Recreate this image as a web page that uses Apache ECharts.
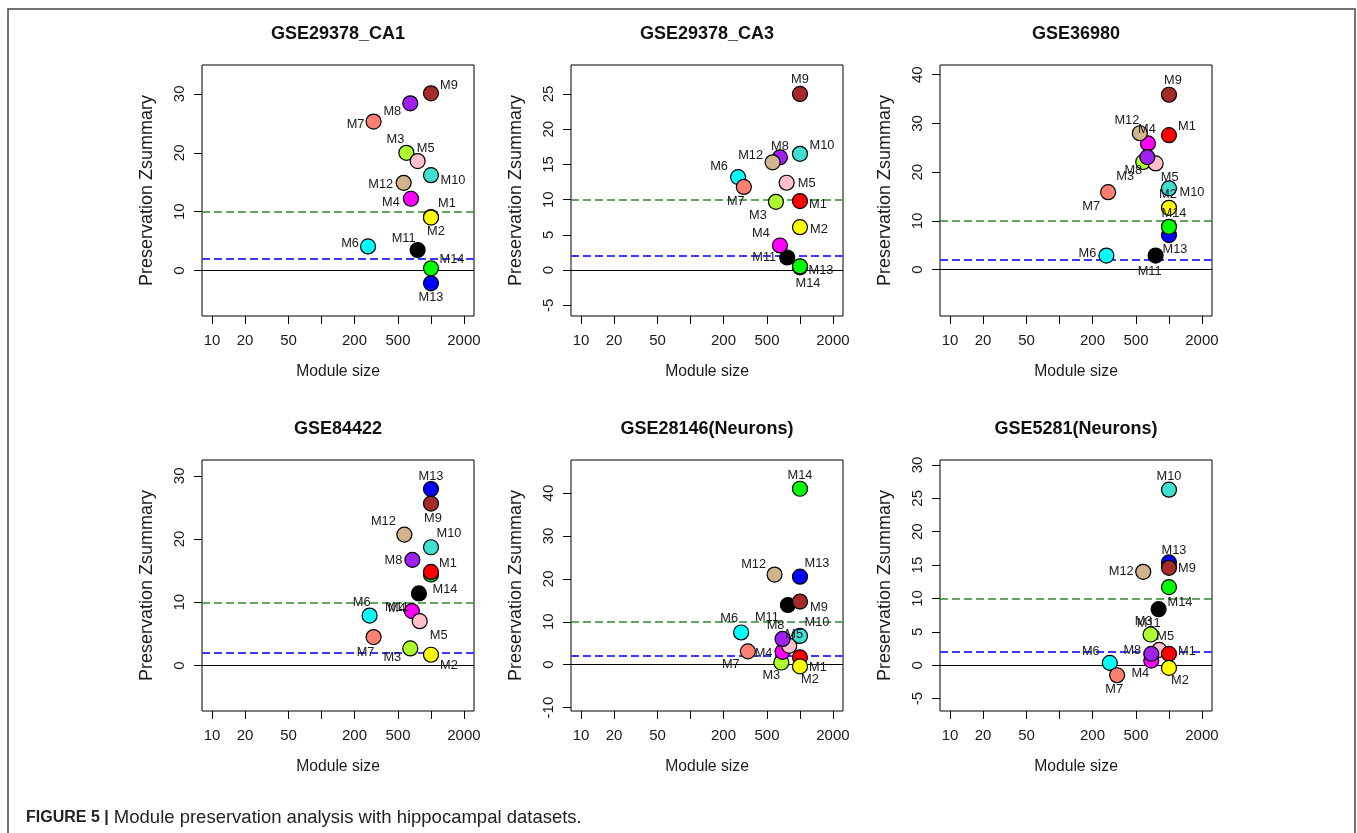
<!DOCTYPE html>
<html><head><meta charset="utf-8">
<script src="https://cdn.jsdelivr.net/npm/echarts@6/dist/echarts.min.js"></script>
<style>html,body{margin:0;padding:0;background:#fff}#c{width:1357px;height:833px}</style>
</head><body><div id="c"></div>
<script>
// ---------------- data ----------------
const modules = ['M1','M2','M3','M4','M5','M6','M7','M8','M9','M10','M11','M12','M13','M14'];
const moduleColors = ['#FF0000','#FFFF00','#ADFF2F','#FF00FF','#FFC0CB','#00FFFF','#FA8072','#A020F0','#A52A2A','#40E0D0','#000000','#D2B48C','#0000FF','#00FF00'];
// plotting order (alphabetical by WGCNA colour name)
const drawOrder = [10, 12, 8, 5, 13, 2, 3, 4, 7, 0, 6, 11, 9, 1];

const titles = ['GSE29378_CA1','GSE29378_CA3','GSE36980','GSE84422','GSE28146(Neurons)','GSE5281(Neurons)'];

const sizeCA1   = [1000,1000,596,656,755,266,299,647,1000,1000,755,563,1000,1000];
const zCA1      = [9.1,9.0,20.0,12.2,18.6,4.1,25.3,28.4,30.1,16.2,3.5,14.9,-2.15,0.4];
const sizeCA3   = [1000,1000,603,656,755,272,307,656,1000,1000,765,562,1000,1000];
const zCA3      = [9.8,6.1,9.7,3.5,12.4,13.2,11.8,16.0,25.0,16.5,1.8,15.3,0.4,0.55];
const size36980 = [1000,1000,582,643,755,268,278,634,1000,1000,755,542,1000,1000];
const z36980    = [27.6,12.7,22.1,25.9,21.8,2.9,15.9,23.1,35.9,16.7,2.9,28.0,7.1,8.8];
const size84422 = [1000,1000,647,670,789,275,299,676,1000,1000,776,571,1000,1000];
const z84422    = [14.8,1.7,2.7,8.6,7.0,7.9,4.5,16.7,25.6,18.7,11.4,20.7,27.9,14.4];
const size28146 = [1000,1000,675,693,798,290,334,693,1000,1000,776,586,1000,1000];
const z28146    = [1.7,-0.4,0.5,3.0,4.4,7.5,3.1,6.0,14.7,6.7,13.9,21.0,20.5,41.0];
const size5281  = [1000,1000,679,689,815,288,336,689,1000,1000,804,582,1000,1000];
const z5281     = [1.7,-0.4,4.6,0.7,2.3,0.35,-1.5,1.7,14.6,26.3,8.4,14.0,15.4,11.7];

const xTickValues  = [10,20,50,100,200,500,1000,2000];
const xLabelValues = [10,20,50,200,500,2000];
const yTicks = [
  [0,10,20,30],
  [-5,0,5,10,15,20,25],
  [0,10,20,30,40],
  [0,10,20,30],
  [-10,0,10,20,30,40],
  [-5,0,5,10,15,20,25,30]
];
const yRanges = [[-7.7,34.9],[-6.5,29.1],[-9.5,42.0],[-7.2,32.5],[-10.8,47.7],[-6.86,30.75]];
const xRange = [8.09, 2472];
const thresholds = [0, 2, 10];

// ---------------- layout / style ----------------
const sizes = [sizeCA1,sizeCA3,size36980,size84422,size28146,size5281];
const zs = [zCA1,zCA3,z36980,z84422,z28146,z5281];
// label offsets (px) per panel, M1..M14
const labelOffsets = [
  [[16,-14],[5,14],[-11,-13],[-20,4],[8,-13],[-18,-3],[-18,3],[-18,8],[18,-8],[22,5],[-14,-12],[-23,2],[0,14],[21,-9]],
  [[18,3],[19,2],[-18,14],[-19,-12],[20,1],[-19,-11],[-8,15],[0,-11],[0,-14],[22,-8],[-23,0],[-22,-7],[21,3],[8,17]],
  [[18,-9],[-1,-13],[-18,14],[-1,-14],[14,14],[-19,-2],[-17,14],[-14,13],[4,-14],[23,4],[-6,16],[-13,-13],[6,14],[5,-13]],
  [[17,-8],[18,11],[-18,9],[-15,-3],[19,14],[-8,-13],[-8,15],[-19,1],[2,15],[18,-14],[-22,14],[-21,-13],[0,-13],[14,15]],
  [[18,10],[10,13],[-10,13],[-19,2],[5,-11],[-12,-14],[-17,13],[-7,-13],[19,6],[17,-13],[-21,12],[-21,-10],[17,-13],[0,-13]],
  [[18,-2],[11,13],[-7,-13],[-11,13],[6,-13],[-19,-11],[-3,14],[-19,-3],[18,1],[0,-13],[-10,14],[-22,0],[5,-12],[11,15]]
];
const colLeft = [202, 571, 940];
const rowTop = [65, 460];
const W = 272, H = 251;
const FONT = '"Liberation Sans", Arial, Helvetica, sans-serif';
const TXT = '#1a1a1a';

const grids = [], xAxes = [], yAxes = [], series = [], graphics = [];
for (let p = 0; p < 6; p++) {
  const c = p % 3, r = Math.floor(p / 3);
  grids.push({left: colLeft[c], top: rowTop[r], width: W, height: H, show: true,
    borderColor: '#000', borderWidth: 1, backgroundColor: 'transparent'});
  xAxes.push({type: 'log', logBase: 10, gridIndex: p, min: xRange[0], max: xRange[1], position: 'bottom',
    name: 'Module size', nameLocation: 'middle', nameGap: 48,
    nameTextStyle: {fontFamily: FONT, fontSize: 15.7, color: TXT},
    axisLine: {show: false, onZero: false}, splitLine: {show: false},
    axisTick: {show: true, inside: false, length: 8, customValues: xTickValues, lineStyle: {color: '#000', width: 1}},
    axisLabel: {show: true, customValues: xLabelValues, margin: 17, fontFamily: FONT, fontSize: 15, color: TXT,
      formatter: v => String(Math.round(v))}
  });
  yAxes.push({type: 'value', gridIndex: p, min: yRanges[p][0], max: yRanges[p][1], position: 'left',
    name: 'Preservation Zsummary', nameLocation: 'middle', nameGap: 46,
    nameTextStyle: {fontFamily: FONT, fontSize: 18, color: TXT},
    axisLine: {show: false, onZero: false}, splitLine: {show: false},
    axisTick: {show: true, inside: false, length: 8, customValues: yTicks[p], lineStyle: {color: '#000', width: 1}},
    axisLabel: {show: true, customValues: yTicks[p], rotate: 90, margin: 15, fontFamily: FONT, fontSize: 15, color: TXT,
      formatter: v => String(v)}
  });
  const data = drawOrder.map(k => ({
    name: modules[k],
    value: [sizes[p][k], zs[p][k]],
    itemStyle: {color: moduleColors[k]},
    label: {offset: labelOffsets[p][k]}
  }));
  series.push({
    type: 'scatter', xAxisIndex: p, yAxisIndex: p, data,
    symbol: 'circle', symbolSize: 15, z: 3,
    itemStyle: {borderColor: '#000', borderWidth: 1.2, opacity: 1},
    label: {show: true, position: 'inside', formatter: '{b}', fontFamily: FONT, fontSize: 12.8,
      color: TXT, textBorderWidth: 0},
    emphasis: {disabled: true},
    markLine: {
      silent: true, symbol: 'none', z: 1, label: {show: false}, animation: false,
      data: [
        {yAxis: thresholds[0], lineStyle: {color: '#000', width: 1, type: 'solid'}},
        {yAxis: thresholds[1], lineStyle: {color: '#3a3aff', width: 1.8, type: [8, 4]}},
        {yAxis: thresholds[2], lineStyle: {color: '#2e8b2e', width: 1.5, type: [8, 4]}}
      ]
    }
  });
  graphics.push({type: 'text', x: colLeft[c] + W / 2, y: rowTop[r] - 30.5,
    style: {text: titles[p], font: 'bold 18px ' + FONT, fill: '#111', textAlign: 'center', textVerticalAlign: 'middle'}});
}
graphics.push({type: 'rect', shape: {x: 8, y: 9, width: 1347, height: 900},
  style: {fill: 'none', stroke: '#444', lineWidth: 1.5}});
graphics.push({type: 'text', x: 26, y: 818,
  style: {text: '{b|FIGURE 5 |} Module preservation analysis with hippocampal datasets.',
    font: '18.5px ' + FONT, fill: '#222', textVerticalAlign: 'middle',
    rich: {b: {fontWeight: 'bold', fontSize: 16, fontFamily: FONT, fill: '#222'}}}});

const chart = echarts.init(document.getElementById('c'), null, {renderer: 'canvas'});
chart.setOption({
  animation: false,
  backgroundColor: '#fff',
  grid: grids, xAxis: xAxes, yAxis: yAxes, series,
  graphic: {elements: graphics}
});
</script></body></html>
